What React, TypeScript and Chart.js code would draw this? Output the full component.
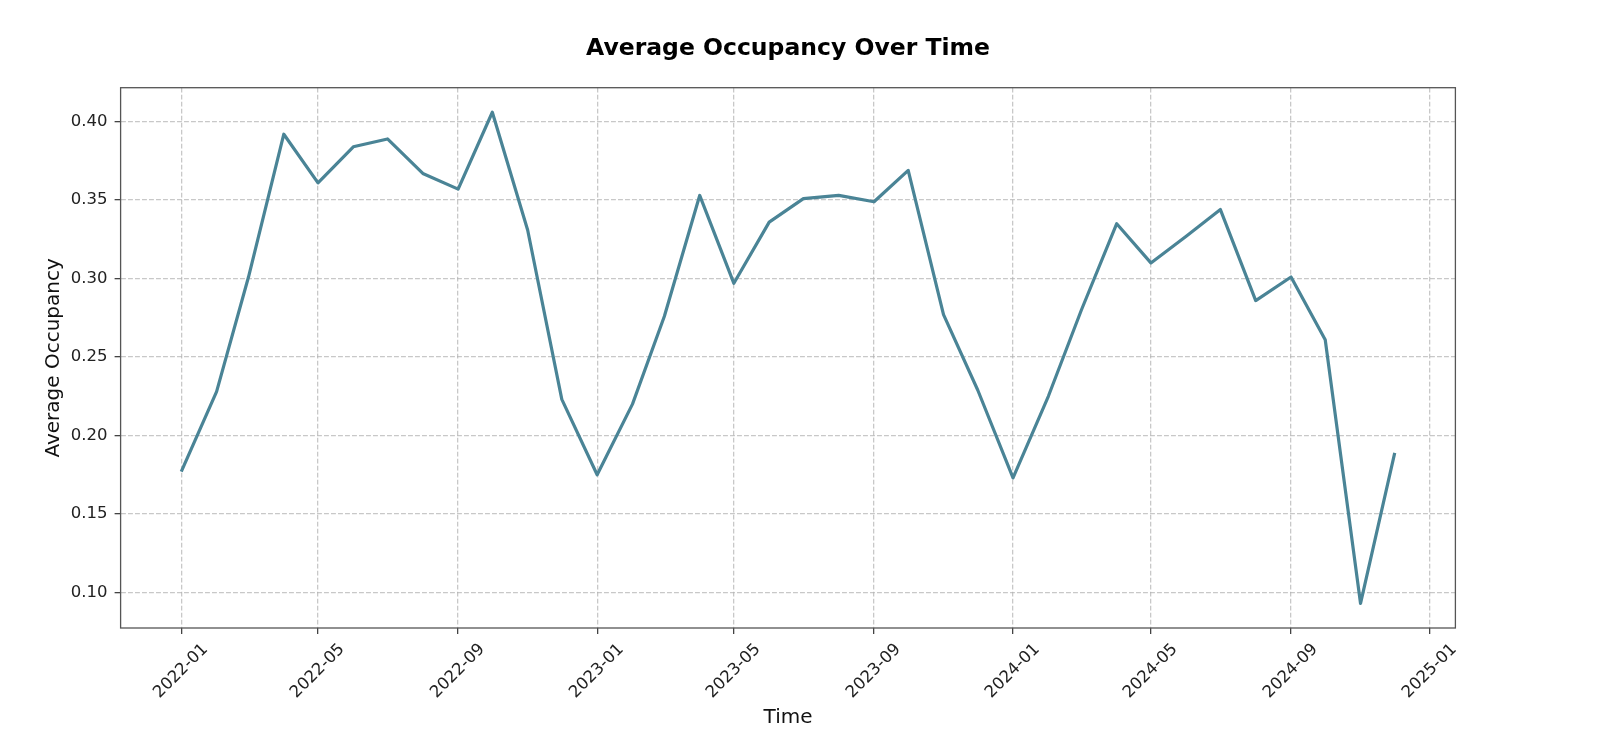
import React, { useEffect, useRef } from "react";
import { Chart, registerables } from "chart.js";

Chart.register(...registerables);

const months: string[] = [
  "2022-01", "2022-02", "2022-03", "2022-04", "2022-05", "2022-06",
  "2022-07", "2022-08", "2022-09", "2022-10", "2022-11", "2022-12",
  "2023-01", "2023-02", "2023-03", "2023-04", "2023-05", "2023-06",
  "2023-07", "2023-08", "2023-09", "2023-10", "2023-11", "2023-12",
  "2024-01", "2024-02", "2024-03", "2024-04", "2024-05", "2024-06",
  "2024-07", "2024-08", "2024-09", "2024-10", "2024-11", "2024-12",
];

const occupancy: number[] = [
  0.177, 0.228, 0.301, 0.392, 0.361, 0.384,
  0.389, 0.367, 0.357, 0.406, 0.331, 0.223,
  0.175, 0.220, 0.276, 0.353, 0.297, 0.336,
  0.351, 0.353, 0.349, 0.369, 0.277, 0.229,
  0.173, 0.225, 0.280, 0.335, 0.310, 0.327,
  0.344, 0.286, 0.301, 0.261, 0.093, 0.189,
];

const xTickLabels: string[] = [
  "2022-01", "2022-05", "2022-09", "2023-01", "2023-05",
  "2023-09", "2024-01", "2024-05", "2024-09", "2025-01",
];

const yTickValues: number[] = [0.1, 0.15, 0.2, 0.25, 0.3, 0.35, 0.4];

const DAY = 86400000;
const toDay = (m: string): number => {
  const [y, mo] = m.split("-").map(Number);
  return Date.UTC(y, mo - 1, 1) / DAY;
};
const fromDay = (d: number): string => {
  const dt = new Date(Math.round(d) * DAY);
  const y = dt.getUTCFullYear();
  const mo = dt.getUTCMonth() + 1;
  return `${y}-${mo < 10 ? "0" + mo : mo}`;
};

const FONT = "'DejaVu Sans', 'Liberation Sans', sans-serif";

const framePlugin = {
  id: "frame",
  afterDraw(chart: any) {
    const { ctx, chartArea } = chart;
    ctx.save();
    ctx.strokeStyle = "#555555";
    ctx.lineWidth = 1.3;
    ctx.strokeRect(
      chartArea.left,
      chartArea.top,
      chartArea.right - chartArea.left,
      chartArea.bottom - chartArea.top
    );
    ctx.restore();
  },
};

export default function App() {
  const canvasRef = useRef<HTMLCanvasElement | null>(null);

  useEffect(() => {
    if (!canvasRef.current) return;
    const xs = months.map(toDay);
    const xMinD = Math.min(...xs);
    const xMaxD = Math.max(...xs);
    const xPad = (xMaxD - xMinD) * 0.05;
    const yMinD = Math.min(...occupancy);
    const yMaxD = Math.max(...occupancy);
    const yPad = (yMaxD - yMinD) * 0.05;

    const chart = new Chart(canvasRef.current, {
      type: "line",
      data: {
        datasets: [
          {
            label: "Average Occupancy",
            data: months.map((m, i) => ({ x: toDay(m), y: occupancy[i] })),
            borderColor: "#4a8496",
            borderWidth: 3.2,
            pointRadius: 0,
            tension: 0,
            fill: false,
            borderCapStyle: "butt",
            borderJoinStyle: "round",
          },
        ],
      },
      plugins: [framePlugin],
      options: {
        animation: false,
        responsive: true,
        maintainAspectRatio: false,
        layout: { padding: { left: 0, right: 148.6, top: 0, bottom: 0 } },
        plugins: {
          legend: { display: false },
          tooltip: { enabled: false },
          title: {
            display: true,
            fullSize: false,
            text: "Average Occupancy Over Time",
            color: "#000000",
            font: { family: FONT, size: 23.5, weight: "bold" },
            padding: { top: 35, bottom: 24.5 },
          },
        },
        scales: {
          x: {
            type: "linear",
            min: xMinD - xPad,
            max: xMaxD + xPad,
            afterBuildTicks: (scale: any) => {
              scale.ticks = xTickLabels.map((t) => ({ value: toDay(t) }));
            },
            afterFit: (scale: any) => {
              scale.height = 128;
            },
            ticks: {
              autoSkip: false,
              minRotation: 45,
              maxRotation: 45,
              labelOffset: 24,
              padding: 5.7,
              color: "#222222",
              font: { family: FONT, size: 16.5 },
              callback: (v: any) => fromDay(Number(v)),
            },
            grid: {
              color: "rgba(176,176,176,0.7)",
              lineWidth: 1.3,
              tickLength: 6,
              tickWidth: 1.3,
              tickColor: "#444444",
              tickBorderDash: [],
            },
            border: { display: false, dash: [4.9, 2.1] },
            title: {
              display: true,
              text: "Time",
              color: "#111111",
              font: { family: FONT, size: 20 },
              padding: { top: 0, bottom: 26.5 },
            },
          },
          y: {
            type: "linear",
            min: yMinD - yPad,
            max: yMaxD + yPad,
            afterBuildTicks: (scale: any) => {
              scale.ticks = yTickValues.map((v) => ({ value: v }));
            },
            afterFit: (scale: any) => {
              scale.width = 120.6;
            },
            ticks: {
              padding: 7,
              color: "#222222",
              font: { family: FONT, size: 16.5 },
              callback: (v: any) => Number(v).toFixed(2),
            },
            grid: {
              color: "rgba(176,176,176,0.7)",
              lineWidth: 1.3,
              tickLength: 6,
              tickWidth: 1.3,
              tickColor: "#444444",
              tickBorderDash: [],
            },
            border: { display: false, dash: [4.9, 2.1] },
            title: {
              display: true,
              text: "Average Occupancy",
              color: "#111111",
              font: { family: FONT, size: 20 },
              padding: { top: 41.5, bottom: 0 },
            },
          },
        },
      },
    } as any);

    return () => chart.destroy();
  }, []);

  return (
    <div style={{ position: "absolute", left: 0, top: 0, width: 1604, height: 756, background: "#ffffff" }}>
      <canvas ref={canvasRef} />
    </div>
  );
}
